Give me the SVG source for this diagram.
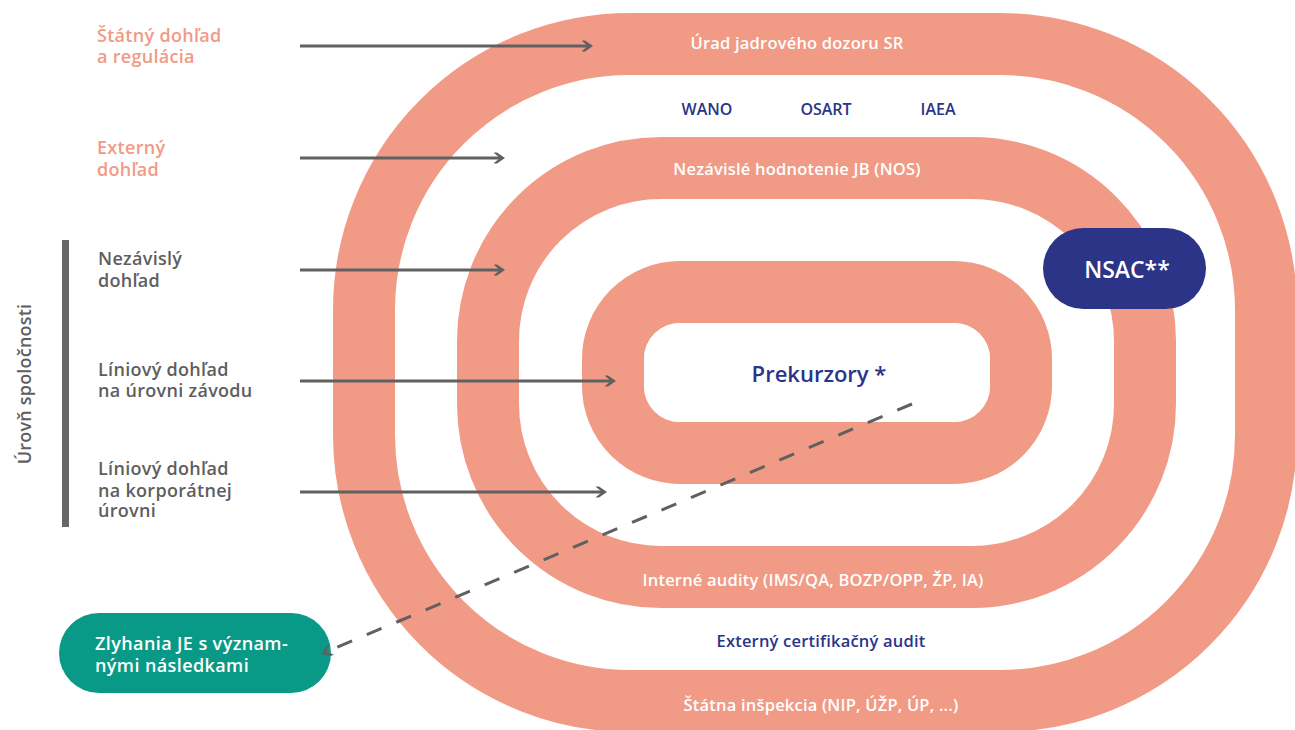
<svg xmlns="http://www.w3.org/2000/svg" width="1295" height="730" viewBox="0 0 1295 730">
  <defs>
    <style>
      .ring { fill: none; stroke: #F19A86; stroke-width: 62; }
      .t { font-family: "Open Sans", "Liberation Sans", Arial, sans-serif; font-weight: 600; }
      .band { font-size: 16.5px; letter-spacing: 0.2px; fill: #FFFFFF; text-anchor: middle; }
      .navy { fill: #2B3487; }
      .side { font-size: 18px; letter-spacing: 0.3px; }
      .sal { fill: #F19A86; }
      .gray { fill: #5E5E5E; }
      .conn { stroke: #606060; stroke-width: 3; fill: none; }
      .dash { stroke-dasharray: 16 16; }
    </style>
    <marker id="head" viewBox="0 0 12 12" refX="6.5" refY="6" markerWidth="12" markerHeight="12" orient="auto" markerUnits="userSpaceOnUse">
      <path d="M0,0.5 L3.5,0.5 L11.5,6 L3.5,11.5 L0,11.5 L6.5,6 Z" fill="#606060"/>
    </marker>
  </defs>

  <!-- outer ring: state supervision -->
  <g id="ring-state">
    <rect class="ring" x="364" y="44" width="902" height="657" rx="266"/>
    <text class="t band" x="797" y="49">Úrad jadrového dozoru SR</text>
    <text class="t band" x="821" y="711">Štátna inšpekcia (NIP, ÚŽP, ÚP, ...)</text>
  </g>

  <!-- gap between outer and middle ring: external reviews -->
  <g id="external">
    <text class="t band navy" x="707" y="115" style="font-size:16px;letter-spacing:0">WANO</text>
    <text class="t band navy" x="826" y="115" style="font-size:16px;letter-spacing:0">OSART</text>
    <text class="t band navy" x="938" y="115" style="font-size:16px;letter-spacing:0">IAEA</text>
    <text class="t band navy" x="821" y="647">Externý certifikačný audit</text>
  </g>

  <!-- middle ring: independent and internal oversight -->
  <g id="ring-independent">
    <rect class="ring" x="488" y="168" width="657" height="409" rx="173"/>
    <text class="t band" x="797" y="175">Nezávislé hodnotenie JB (NOS)</text>
    <text class="t band" x="813" y="586">Interné audity (IMS/QA, BOZP/OPP, ŽP, IA)</text>
  </g>

  <!-- inner ring -->
  <g id="ring-plant">
    <rect class="ring" x="613" y="292" width="408" height="161" rx="67"/>
  </g>

  <!-- core -->
  <g id="precursors">
    <rect x="644" y="323" width="346" height="99" rx="36" fill="#FFFFFF"/>
    <text class="t navy" x="819" y="382" text-anchor="middle" style="font-size:22px">Prekurzory *</text>
  </g>

  <!-- NSAC -->
  <g id="nsac">
    <rect x="1043" y="228" width="163" height="81" rx="40.5" fill="#2B3487"/>
    <text class="t" x="1127" y="278" text-anchor="middle" fill="#FFFFFF" style="font-size:23px">NSAC**</text>
  </g>

  <!-- failures -->
  <g id="failures">
    <rect x="59" y="613" width="272" height="80" rx="40" fill="#089A86"/>
    <text class="t" fill="#FFFFFF" style="font-size:18px;letter-spacing:0.4px">
      <tspan x="95" y="650">Zlyhania JE s význam-</tspan>
      <tspan x="95" y="672">nými následkami</tspan>
    </text>
  </g>

  <!-- level labels -->
  <g id="label-state">
    <text class="t side sal"><tspan x="97" y="42">Štátný dohľad</tspan><tspan x="97" y="63">a regulácia</tspan></text>
  </g>
  <g id="label-external">
    <text class="t side sal"><tspan x="97" y="154">Externý</tspan><tspan x="97" y="176">dohľad</tspan></text>
  </g>
  <g id="label-independent">
    <text class="t side gray"><tspan x="98" y="265">Nezávislý</tspan><tspan x="98" y="287">dohľad</tspan></text>
  </g>
  <g id="label-plant">
    <text class="t side gray"><tspan x="98" y="376">Líniový dohľad</tspan><tspan x="98" y="397">na úrovni závodu</tspan></text>
  </g>
  <g id="label-corporate">
    <text class="t side gray"><tspan x="98" y="475">Líniový dohľad</tspan><tspan x="98" y="497">na korporátnej</tspan><tspan x="98" y="517">úrovni</tspan></text>
  </g>
  <g id="company-level">
    <rect x="62" y="240" width="7" height="287" fill="#666666"/>
    <text class="t side gray" transform="translate(31,384) rotate(-90)" text-anchor="middle" style="letter-spacing:0.2px">Úrovň spoločnosti</text>
  </g>

  <!-- connectors -->
  <g id="connectors">
    <line class="conn" x1="300" y1="46" x2="588" y2="46" marker-end="url(#head)"/>
    <line class="conn" x1="300" y1="158" x2="500" y2="158" marker-end="url(#head)"/>
    <line class="conn" x1="300" y1="270" x2="500" y2="270" marker-end="url(#head)"/>
    <line class="conn" x1="300" y1="381" x2="611" y2="381" marker-end="url(#head)"/>
    <line class="conn" x1="300" y1="492" x2="602" y2="492" marker-end="url(#head)"/>
    <line class="conn dash" x1="912" y1="404" x2="326" y2="652" marker-end="url(#head)"/>
  </g>
</svg>
